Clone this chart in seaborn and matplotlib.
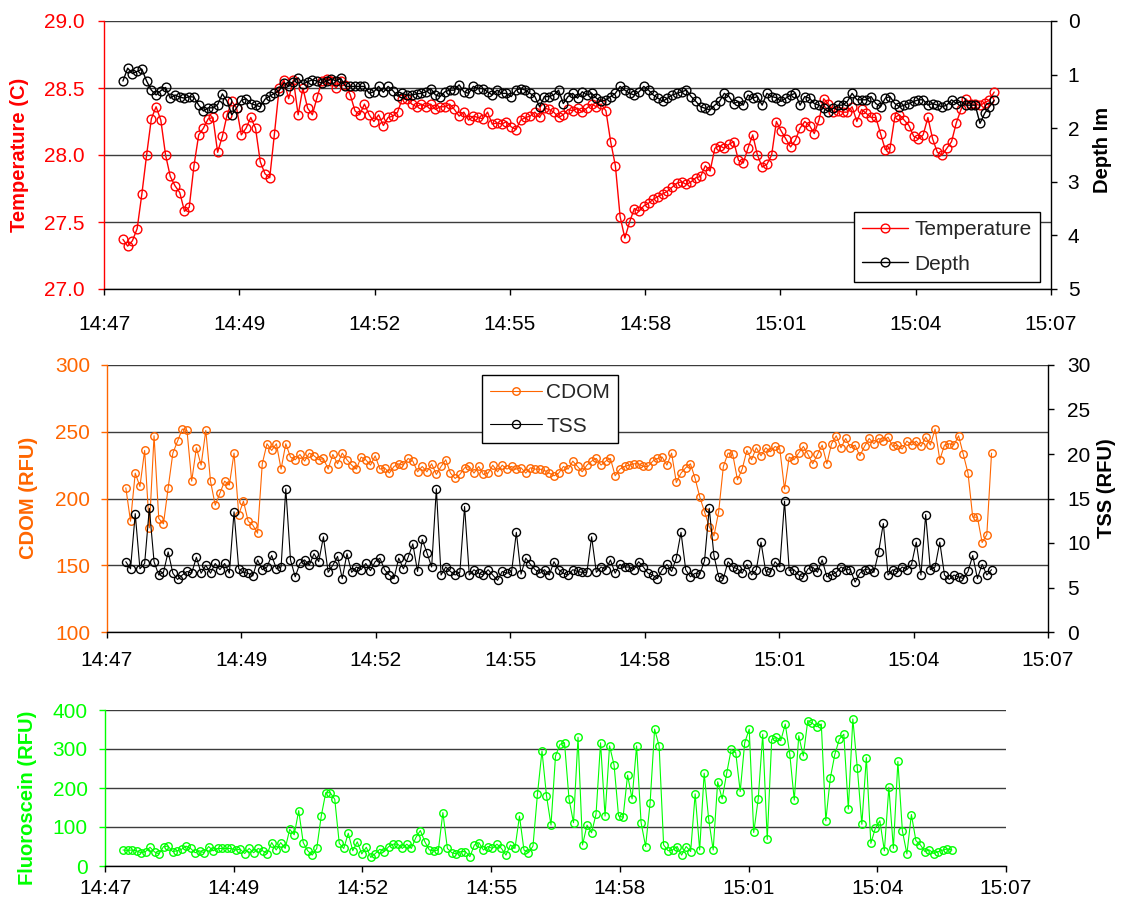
import numpy as np
import pandas as pd
import matplotlib
matplotlib.use("Agg")
import matplotlib.pyplot as plt
import seaborn as sns
from matplotlib.ticker import FormatStrFormatter

sns.set_theme(style="white")
plt.rcParams["font.family"] = ["Liberation Sans", "DejaVu Sans"]

# ---------------- data (logger samples every 6 s from 14:47:24) ----------------
start_time = "2000-01-01 14:47:24"
sample_interval = "6s"

temperature = [
    27.37, 27.32, 27.36, 27.45, 27.71, 28.00, 28.27,
    28.36, 28.26, 28.00, 27.84, 27.77, 27.72, 27.58, 27.61, 27.92, 28.15,
    28.20, 28.27, 28.28, 28.02, 28.14, 28.30, 28.40, 28.35, 28.15, 28.20,
    28.28, 28.20, 27.95, 27.86, 27.83, 28.16, 28.50, 28.56, 28.42, 28.56,
    28.30, 28.50, 28.35, 28.30, 28.43, 28.55, 28.57, 28.55, 28.50, 28.55,
    28.52, 28.45, 28.33, 28.30, 28.38, 28.30, 28.25, 28.30, 28.22, 28.28,
    28.29, 28.32, 28.42, 28.42, 28.38, 28.36,
    28.38, 28.36, 28.38, 28.34,
    28.36, 28.36, 28.38, 28.34, 28.29, 28.32, 28.26, 28.29, 28.28, 28.27,
    28.32, 28.23, 28.24, 28.23, 28.25, 28.21, 28.19, 28.26, 28.28, 28.29,
    28.32, 28.28, 28.35, 28.34, 28.32, 28.28, 28.30, 28.34, 28.33, 28.35,
    28.32, 28.35, 28.38, 28.36, 28.38, 28.33, 28.10, 27.92, 27.54, 27.38,
    27.50, 27.60, 27.58, 27.62, 27.64, 27.67, 27.69, 27.71, 27.73, 27.76,
    27.79, 27.80, 27.78, 27.80, 27.83, 27.84, 27.92, 27.88, 28.05, 28.07,
    28.05, 28.08, 28.10, 27.96, 27.94, 28.05, 28.15, 28.00, 27.91, 27.93,
    28.00, 28.25, 28.18, 28.12, 28.06, 28.11, 28.20, 28.25, 28.22, 28.16,
    28.26, 28.42, 28.38, 28.32, 28.33, 28.32, 28.32, 28.36, 28.25, 28.34,
    28.31, 28.28, 28.28, 28.16, 28.04, 28.05, 28.28, 28.30, 28.26, 28.22,
    28.14, 28.12, 28.15, 28.28, 28.12, 28.02, 28.00, 28.05, 28.10, 28.24,
    28.34, 28.42, 28.38, 28.38, 28.37, 28.39, 28.41, 28.47,
]

depth = [
    1.12, 0.88, 0.98, 0.94, 0.90, 1.12, 1.29,
    1.38, 1.30, 1.24, 1.44, 1.38, 1.42, 1.44, 1.41, 1.42, 1.57,
    1.68, 1.62, 1.62, 1.56, 1.36, 1.50, 1.75, 1.62, 1.48, 1.45,
    1.54, 1.57, 1.60, 1.46, 1.40, 1.35, 1.30, 1.15, 1.22, 1.13,
    1.06, 1.18, 1.13, 1.10, 1.12, 1.16, 1.12, 1.08, 1.12, 1.07,
    1.22, 1.22, 1.22, 1.22, 1.22, 1.35, 1.32, 1.22, 1.33, 1.22,
    1.30, 1.40, 1.35, 1.38, 1.38, 1.36,
    1.35, 1.32, 1.26, 1.38,
    1.41, 1.32, 1.29, 1.29, 1.19, 1.32, 1.35, 1.22, 1.26, 1.26,
    1.32, 1.38, 1.29, 1.35, 1.35, 1.41, 1.29, 1.26, 1.29, 1.35,
    1.41, 1.60, 1.41, 1.41, 1.38, 1.29, 1.54, 1.41, 1.35, 1.44,
    1.32, 1.38, 1.35, 1.44, 1.50, 1.47, 1.41, 1.35, 1.22, 1.29,
    1.35, 1.38, 1.32, 1.22, 1.29, 1.38, 1.44, 1.50, 1.44, 1.38,
    1.35, 1.32, 1.29, 1.41, 1.50, 1.60, 1.63, 1.66, 1.57, 1.50,
    1.35, 1.41, 1.54, 1.50, 1.57, 1.38, 1.44, 1.41, 1.57, 1.35,
    1.41, 1.43, 1.50, 1.44, 1.38, 1.35, 1.57, 1.41, 1.44, 1.54,
    1.57, 1.63, 1.69, 1.63, 1.57, 1.57, 1.50, 1.35, 1.47, 1.47,
    1.47, 1.41, 1.54, 1.60, 1.44, 1.41, 1.54, 1.60, 1.57, 1.54,
    1.50, 1.47, 1.47, 1.57, 1.54, 1.57, 1.60, 1.57, 1.47, 1.54,
    1.50, 1.57, 1.57, 1.57, 1.91, 1.72, 1.60, 1.48,
]

cdom = [
    208, 183, 219, 209, 236, 178, 247,
    185, 181, 208, 234, 243, 252, 251, 213, 238, 225,
    251, 213, 195, 204, 213, 210, 234, 188, 198, 183,
    180, 174, 226, 241, 236, 241, 222, 241, 231, 229,
    233, 228, 234, 232, 229, 230, 222, 233, 226, 234,
    229, 225, 222, 231, 229, 225, 232, 222, 223, 219,
    224, 226, 225, 230, 228, 220,
    224, 220, 226, 218,
    224, 229, 219, 215, 218, 223, 224, 219, 224, 218,
    219, 225, 220, 225, 222, 224, 222, 223, 219, 223,
    222, 222, 221, 219, 217, 219, 224, 222, 228, 224,
    220, 225, 228, 230, 225, 228, 230, 217, 222, 224,
    225, 226, 226, 224, 224, 228, 230, 231, 225, 234,
    212, 219, 223, 226, 215, 201, 190, 179, 172, 190,
    224, 234, 233, 214, 222, 236, 229, 238, 232, 238,
    235, 239, 237, 207, 231, 229, 234, 239, 233, 226,
    233, 240, 226, 241, 247, 238, 245, 238, 240, 232,
    239, 245, 241, 245, 243, 246, 239, 240, 237, 243,
    240, 243, 239, 246, 240, 252, 229, 240, 241, 240,
    247, 233, 219, 186, 186, 167, 173, 234,
]

tss = [
    7.9, 7.1, 13.3, 7.1, 7.7, 13.9, 7.9,
    6.4, 6.7, 9.0, 6.6, 5.9, 6.4, 6.8, 6.6, 8.4, 6.6,
    7.5, 6.6, 7.7, 7.0, 7.7, 6.6, 13.5, 7.1, 6.7, 6.6,
    6.3, 8.1, 7.0, 7.3, 8.6, 7.1, 7.3, 16.1, 8.1, 6.2,
    7.7, 8.1, 7.5, 8.8, 7.9, 10.7, 6.7, 7.5, 8.5, 6.0,
    8.8, 6.7, 7.3, 7.0, 7.7, 6.9, 7.9, 8.3, 7.0, 6.4,
    6.0, 8.3, 7.1, 8.4, 9.9, 6.8,
    10.4, 8.9, 7.3, 16.1,
    6.4, 7.3, 6.8, 6.4, 6.7, 14.1, 6.4, 7.0, 6.6, 6.4,
    7.0, 6.4, 5.8, 6.8, 6.6, 6.8, 11.2, 6.5, 8.3, 7.6,
    7.0, 6.6, 7.0, 6.4, 7.9, 7.0, 6.6, 6.4, 7.0, 6.8,
    6.7, 6.7, 10.7, 6.7, 7.3, 7.0, 8.1, 6.6, 7.6, 7.3,
    7.3, 7.0, 7.9, 7.3, 6.6, 6.4, 6.0, 7.0, 7.6, 6.8,
    8.3, 11.2, 7.0, 6.2, 6.6, 6.5, 8.0, 13.9, 8.6, 6.2,
    6.0, 7.9, 7.3, 7.1, 6.6, 7.6, 6.4, 7.0, 10.1, 6.8,
    6.7, 7.9, 7.3, 14.7, 6.9, 7.0, 6.4, 6.2, 7.1, 7.3,
    6.7, 8.1, 6.2, 6.4, 6.7, 7.3, 7.0, 7.0, 5.6, 6.6,
    7.0, 7.1, 6.7, 9.0, 12.2, 6.4, 7.0, 6.7, 7.3, 7.0,
    7.6, 10.1, 6.4, 13.2, 7.0, 7.3, 10.1, 6.4, 5.9, 6.4,
    6.2, 6.0, 6.8, 8.6, 6.0, 7.6, 6.4, 7.0,
]

fluorescein = [
    41, 40, 41, 39, 34, 37, 48,
    36, 31, 50, 51, 37, 39, 43, 51, 45, 34,
    39, 34, 50, 39, 45, 45, 45, 45, 41, 43,
    32, 45, 34, 45, 39, 32, 60, 41, 60, 45,
    94, 80, 142, 60, 39, 28, 45, 128, 188, 188,
    171, 58, 45, 84, 39, 62, 31, 48, 22, 32,
    43, 37, 50, 56, 56, 45,
    56, 45, 73, 91,
    62, 41, 39, 41, 137, 45, 34, 31, 37, 37,
    24, 54, 60, 41, 50, 45, 56, 45, 28, 54,
    45, 128, 41, 34, 51, 185, 295, 180, 105, 282,
    312, 316, 172, 111, 330, 54, 105, 85, 133, 316,
    128, 308, 259, 128, 125, 233, 172, 308, 111, 50,
    162, 351, 308, 54, 39, 41, 50, 28, 50, 37,
    185, 41, 238, 120, 41, 216, 172, 238, 299, 291,
    191, 316, 351, 86, 172, 338, 68, 325, 330, 321,
    364, 287, 169, 334, 282, 373, 366, 357, 364, 116,
    225, 286, 325, 338, 146, 377, 251, 107, 278, 58,
    97, 116, 39, 202, 45, 268, 90, 31, 132, 65,
    54, 37, 41, 32, 37, 41, 44, 41,
]

x_tick_labels = ["14:47", "14:49", "14:52", "14:55", "14:58", "15:01", "15:04", "15:07"]
axis_origin = "2000-01-01 14:47:00"
axis_span_min = 20.0

n = min(len(temperature), len(depth), len(cdom), len(tss), len(fluorescein))
times = pd.date_range(start_time, periods=n, freq=sample_interval)
df = pd.DataFrame({
    "time": times,
    "Temperature": temperature[:n],
    "Depth": depth[:n],
    "CDOM": cdom[:n],
    "TSS": tss[:n],
    "Fluorescein": fluorescein[:n],
})
df["minutes"] = (df["time"] - pd.Timestamp(axis_origin)).dt.total_seconds() / 60.0

# ---------------- figure ----------------
W, H = 1121, 907
fig = plt.figure(figsize=(W / 100, H / 100), dpi=100)
fig.patch.set_facecolor("white")

def box(l, t, r, b):
    return [l / W, 1 - b / H, (r - l) / W, (b - t) / H]

ax1 = fig.add_axes(box(104, 21, 1051, 289))
ax2 = fig.add_axes(box(107, 365, 1048, 632))
ax3 = fig.add_axes(box(105, 710, 1006, 866))

RED = "#FF0000"
ORANGE = "#FF6600"
GREEN = "#00FF00"
GRID = "#3c3c3c"
FS = 15

def style_main(ax, color, ylim, yticks, fmt, xpad, ypad):
    ax.set_facecolor("white")
    ax.set_xlim(0, axis_span_min)
    ax.set_xticks(np.linspace(0, axis_span_min, len(x_tick_labels)))
    ax.set_xticklabels(x_tick_labels)
    ax.set_ylim(*ylim)
    ax.set_yticks(yticks)
    if fmt:
        ax.yaxis.set_major_formatter(FormatStrFormatter(fmt))
    ax.grid(False)
    ax.yaxis.grid(True, color=GRID, linewidth=1.0)
    ax.set_axisbelow(True)
    for s in ("top", "right"):
        ax.spines[s].set_visible(False)
    ax.spines["left"].set_color(color)
    ax.spines["left"].set_linewidth(1.0)
    ax.spines["bottom"].set_color("black")
    ax.spines["bottom"].set_linewidth(1.0)
    ax.tick_params(axis="y", colors=color, labelsize=FS, length=4, width=1.0,
                   direction="out", pad=ypad, left=True)
    ax.tick_params(axis="x", colors="black", labelsize=FS, length=4, width=1.0,
                   direction="out", pad=xpad, bottom=True)
    ax.set_xlabel("")
    ax.set_ylabel("")

def style_twin(ax, ylim, yticks, pad):
    ax.set_ylim(*ylim)
    ax.set_yticks(yticks)
    ax.grid(False)
    for s in ("top", "left", "bottom"):
        ax.spines[s].set_visible(False)
    ax.spines["right"].set_color("black")
    ax.spines["right"].set_linewidth(1.0)
    ax.tick_params(axis="y", colors="black", labelsize=FS, length=4, width=1.0,
                   direction="out", pad=pad, right=True)
    ax.set_xlabel("")
    ax.set_ylabel("")

def series(ax, col, color, ms, lw, label):
    sns.lineplot(data=df, x="minutes", y=col, ax=ax, sort=False, estimator=None,
                 color=color, linewidth=lw, marker="o", markersize=ms,
                 markerfacecolor="none", markeredgecolor=color,
                 markeredgewidth=1.0, label=label, legend=False)

# ---- top: temperature / depth
series(ax1, "Temperature", RED, 6.3, 1.0, "Temperature")
style_main(ax1, RED, (27.0, 29.0), [27.0, 27.5, 28.0, 28.5, 29.0], "%.1f", 15, 10)
ax1b = ax1.twinx()
series(ax1b, "Depth", "black", 6.3, 1.0, "Depth")
style_twin(ax1b, (5, 0), [0, 1, 2, 3, 4, 5], 8)
ax1b.set_xlim(0, axis_span_min)
h = [ax1.get_lines()[0], ax1b.get_lines()[0]]
leg = ax1b.legend(h, ["Temperature", "Depth"], loc="lower right",
                  bbox_to_anchor=(0.988, 0.026), borderaxespad=0, frameon=True,
                  fancybox=False, edgecolor="black", fontsize=FS, handlelength=2.2,
                  handletextpad=0.3, labelspacing=0.75, borderpad=0.4, framealpha=1)
leg.get_frame().set_linewidth(1.0)

# ---- middle: CDOM / TSS
series(ax2, "CDOM", ORANGE, 5.4, 0.8, "CDOM")
style_main(ax2, ORANGE, (100, 300), [100, 150, 200, 250, 300], None, 10, 8)
ax2b = ax2.twinx()
series(ax2b, "TSS", "black", 5.8, 0.8, "TSS")
style_twin(ax2b, (0, 30), [0, 5, 10, 15, 20, 25, 30], 10)
ax2b.set_xlim(0, axis_span_min)
h = [ax2.get_lines()[0], ax2b.get_lines()[0]]
leg2 = ax2b.legend(h, ["CDOM", "TSS"], loc="upper left",
                   bbox_to_anchor=(0.3985, 0.9625), borderaxespad=0, frameon=True,
                   fancybox=False, edgecolor="black", fontsize=FS, handlelength=2.5,
                   handletextpad=0.2, labelspacing=0.7, borderpad=0.38, framealpha=1)
leg2.get_frame().set_linewidth(1.0)

# ---- bottom: fluorescein
series(ax3, "Fluorescein", GREEN, 5.4, 0.8, "Fluorescein")
style_main(ax3, GREEN, (0, 400), [0, 100, 200, 300, 400], None, 5, 8.5)

# ---- axis titles
def ytitle(x, y, s, color):
    fig.text(x / W, 1 - y / H, s, rotation=90, ha="center", va="center",
             color=color, fontsize=14.5, fontweight="bold")

ytitle(20, 155, "Temperature (C)", RED)
ytitle(1103, 150, "Depth Im", "black")
ytitle(28, 498, "CDOM (RFU)", ORANGE)
ytitle(1107, 488, "TSS (RFU)", "black")
ytitle(28, 798, "Fluoroscein (RFU)", GREEN)

fig.savefig("out.png", dpi=100, facecolor="white")
